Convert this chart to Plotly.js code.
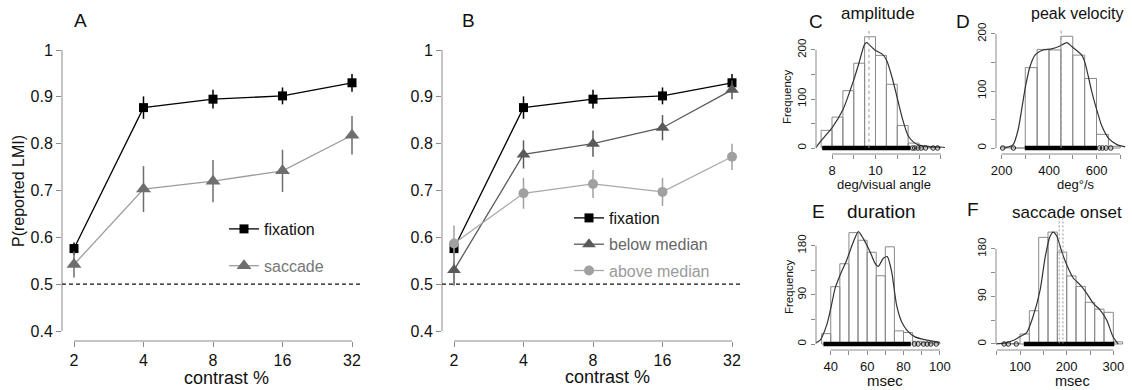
<!DOCTYPE html>
<html><head><meta charset="utf-8">
<script src="https://cdn.plot.ly/plotly-3.0.1.min.js"></script>
<style>html,body{margin:0;padding:0;background:#fff;}#chart{width:1132px;height:390px;}</style>
</head><body><div id="chart"></div>
<script>
// ---------- Panels A & B: P(reported LMI) vs contrast ----------
const contrastLabels = ['2', '4', '8', '16', '32'];
const fixationP   = [0.576, 0.877, 0.895, 0.902, 0.930];
const fixationErr = [0.013, 0.024, 0.020, 0.018, 0.019];
const saccadeP    = [0.542, 0.703, 0.720, 0.742, 0.818];
const saccadeErr  = [0.028, 0.049, 0.045, 0.045, 0.041];
const belowP      = [0.530, 0.777, 0.800, 0.834, 0.915];
const belowErr    = [0.033, 0.030, 0.028, 0.027, 0.020];
const aboveP      = [0.587, 0.694, 0.714, 0.697, 0.772];
const aboveErr    = [0.038, 0.033, 0.030, 0.030, 0.028];
const chanceLevel = 0.5;
const pTicks = [0.4, 0.5, 0.6, 0.7, 0.8, 0.9, 1];
const pTickText = ['0.4', '0.5', '0.6', '0.7', '0.8', '0.9', '1'];

// ---------- Panel C: amplitude ----------
const binStartC = [7.5, 8, 8.5, 9, 9.5, 10, 10.5, 11, 11.5, 12, 12.5];
const binWidthC = 0.5;
const countC = [36, 63, 117, 173, 227, 189, 130, 46, 10, 2, 1];
const densXC = [7.25, 7.5, 8.0, 8.5, 9.0, 9.25, 9.5, 9.6, 9.73, 10.0, 10.3, 10.5, 10.75, 11.0, 11.25, 11.5, 11.75, 12.0, 12.5, 13.0, 13.2];
const densYC = [0, 15, 41, 78, 139, 175, 212, 215, 210, 199, 192, 180, 146, 102, 58, 25, 12, 6, 3, 2, 1];
const rugDenseC = [7.55, 11.6];
const rugSparseC = [11.7, 11.8, 11.95, 12.1, 12.3, 12.65, 12.85];
const meanC = [9.7];
const xTicksC = [8, 9, 10, 11, 12, 13];
const xTickTextC = ['8', '', '10', '', '12', ''];
const yTicksC = [0, 50, 100, 150, 200];
const yTickTextC = ['0', '', '100', '', '200'];

// ---------- Panel D: peak velocity ----------
const binStartD = [200, 250, 300, 350, 400, 450, 500, 550, 600, 650];
const binWidthD = 50;
const countD = [2, 0, 141, 173, 172, 196, 163, 122, 24, 3];
const densXD = [214, 249, 270, 287, 301, 320, 341, 369, 411, 446, 475, 496, 538, 552, 580, 601, 623, 651, 686, 721];
const densYD = [0, 6, 32, 73, 108, 143, 163, 171, 174, 179, 185, 178, 163, 149, 99, 67, 38, 17, 6, 2];
const rugDenseD = [298, 602];
const rugSparseD = [205, 250, 612, 625, 640, 660];
const meanD = [451];
const xTicksD = [200, 300, 400, 500, 600, 700];
const xTickTextD = ['200', '', '400', '', '600', ''];
const yTicksD = [0, 50, 100, 150, 200];
const yTickTextD = ['0', '', '100', '', '200'];

// ---------- Panel E: duration ----------
const binStartE = [35, 40, 45, 50, 55, 60, 65, 70, 75, 80, 85, 90, 95];
const binWidthE = 5;
const countE = [19, 105, 147, 204, 190, 168, 125, 178, 24, 21, 5, 3, 2];
const densXE = [30.5, 34.2, 37.8, 40, 42.4, 45.1, 48.8, 52.4, 55.2, 57.9, 61.6, 64.3, 66.1, 68.9, 71.1, 73.5, 76.2, 78.9, 81.7, 86.3, 92.7, 100];
const densYE = [0, 7, 35, 65, 102, 126, 154, 187, 206, 193, 169, 148, 142, 157, 160, 132, 71, 41, 26, 13, 7, 3];
const rugDenseE = [36, 84];
const rugSparseE = [86, 88, 91, 93, 95, 98];
const xTicksE = [40, 50, 60, 70, 80, 90, 100];
const xTickTextE = ['40', '', '60', '', '80', '', '100'];
const yTicksE = [0, 45, 90, 135, 180];
const yTickTextE = ['0', '', '90', '', '180'];

// ---------- Panel F: saccade onset ----------
const binStartF = [60, 80, 100, 120, 140, 160, 180, 200, 220, 240, 260, 280, 300];
const binWidthF = 20;
const countF = [1, 1, 19, 63, 202, 212, 174, 129, 109, 79, 66, 60, 4];
const densXF = [46, 68, 89, 100, 114, 128, 143, 154, 164, 171, 179, 189, 200, 214, 229, 243, 257, 271, 286, 299, 310];
const densYF = [0, 2, 8, 14, 21, 52, 102, 165, 203, 212, 204, 176, 150, 125, 112, 96, 77, 65, 45, 14, 0];
const rugDenseF = [108, 302];
const rugSparseF = [66, 75, 92];
const meanF = [184, 192];
const xTicksF = [50, 100, 150, 200, 250, 300];
const xTickTextF = ['', '100', '', '200', '', '300'];
const yTicksF = [0, 45, 90, 135, 180];
const yTickTextF = ['0', '', '90', '', '180'];

// ---------- helpers ----------
const W = 1132, H = 390;
const FONT = 'Liberation Sans, Arial, Helvetica, sans-serif';
const AX = '#8a8a8a';
const px = v => v / W;
const py = v => 1 - v / H;

function errTrace(y, err, xa, ya, color, lineColor, symbol, size, name, legend, rank) {
  return {
    type: 'scatter', mode: 'lines+markers', x: contrastLabels, y: y,
    xaxis: xa, yaxis: ya, name: name, legend: legend, showlegend: true, legendrank: rank,
    legendgroup: name + xa,
    line: {color: lineColor, width: 1.3},
    marker: {color: color, symbol: symbol, size: size, line: {width: 0}},
    error_y: {type: 'data', array: err, visible: true, color: color, thickness: 1.5, width: 0},
    cliponaxis: false, hoverinfo: 'skip'
  };
}
function barTrace(starts, width, counts, xa, ya) {
  return {
    type: 'bar', x: starts, y: counts, width: width, offset: 0,
    xaxis: xa, yaxis: ya, showlegend: false,
    marker: {color: 'rgba(255,255,255,0)', line: {color: '#8a8a8a', width: 1}},
    hoverinfo: 'skip'
  };
}
function densTrace(x, y, xa, ya) {
  return {type: 'scatter', mode: 'lines', x: x, y: y, xaxis: xa, yaxis: ya, showlegend: false,
    line: {color: '#333', width: 1.2, shape: 'spline', smoothing: 0.6}, cliponaxis: false, hoverinfo: 'skip'};
}
function rugTraces(dense, sparse, xa, ya) {
  return [
    {type: 'scatter', mode: 'lines', x: dense, y: dense.map(() => 0), xaxis: xa, yaxis: ya, showlegend: false,
     line: {color: '#000', width: 4.5}, cliponaxis: false, hoverinfo: 'skip'},
    {type: 'scatter', mode: 'markers', x: sparse, y: sparse.map(() => 0), xaxis: xa, yaxis: ya, showlegend: false,
     marker: {symbol: 'circle-open', size: 4.5, color: '#222', line: {width: 1}}, cliponaxis: false, hoverinfo: 'skip'}
  ];
}

const traces = [
  errTrace(fixationP, fixationErr, 'x', 'y', '#000', '#000', 'square', 9, 'fixation', 'legend', 1),
  errTrace(saccadeP, saccadeErr, 'x', 'y', '#6e6e6e', '#9c9c9c', 'triangle-up', 13, '<span style="color:#777">saccade</span>', 'legend', 2),
  errTrace(fixationP, fixationErr, 'x2', 'y2', '#000', '#000', 'square', 9, 'fixation', 'legend2', 1),
  errTrace(belowP, belowErr, 'x2', 'y2', '#5a5a5a', '#5a5a5a', 'triangle-up', 12, '<span style="color:#666">below median</span>', 'legend2', 2),
  errTrace(aboveP, aboveErr, 'x2', 'y2', '#a0a0a0', '#a8a8a8', 'circle', 10, '<span style="color:#9a9a9a">above median</span>', 'legend2', 3),
  barTrace(binStartC, binWidthC, countC, 'x3', 'y3'),
  densTrace(densXC, densYC, 'x3', 'y3'),
  ...rugTraces(rugDenseC, rugSparseC, 'x3', 'y3'),
  barTrace(binStartD, binWidthD, countD, 'x4', 'y4'),
  densTrace(densXD, densYD, 'x4', 'y4'),
  ...rugTraces(rugDenseD, rugSparseD, 'x4', 'y4'),
  barTrace(binStartE, binWidthE, countE, 'x5', 'y5'),
  densTrace(densXE, densYE, 'x5', 'y5'),
  ...rugTraces(rugDenseE, rugSparseE, 'x5', 'y5'),
  barTrace(binStartF, binWidthF, countF, 'x6', 'y6'),
  densTrace(densXF, densYF, 'x6', 'y6'),
  ...rugTraces(rugDenseF, rugSparseF, 'x6', 'y6')
];

function xAx(domain, range, anchor, extra) {
  return Object.assign({domain: domain, range: range, anchor: anchor, showgrid: false, zeroline: false,
    showline: false, ticks: 'outside', ticklen: 5, tickcolor: AX, tickwidth: 1,
    tickfont: {family: FONT, size: 16, color: '#111'}, fixedrange: true}, extra || {});
}
function yAx(domain, range, anchor, extra) {
  return Object.assign({domain: domain, range: range, anchor: anchor, showgrid: false, zeroline: false,
    showline: false, ticks: 'outside', ticklen: 5, tickcolor: AX, tickwidth: 1,
    tickfont: {family: FONT, size: 16, color: '#111'}, fixedrange: true}, extra || {});
}
const catRange = [-12 / 69.5, 4 + 13 / 69.5];
const pRange = [0.4 - 10 / 468.33, 1 + 5 / 468.33];
const histTickX = {ticklen: 4, tickfont: {family: FONT, size: 13, color: '#111'}, tickmode: 'array'};
const histTickY = {ticklen: 4, tickangle: -90, tickfont: {family: FONT, size: 11.5, color: '#111'}, tickmode: 'array'};

const layout = {
  width: W, height: H, margin: {l: 0, r: 0, t: 0, b: 0},
  paper_bgcolor: '#fff', plot_bgcolor: 'rgba(0,0,0,0)',
  font: {family: FONT, color: '#111'},
  bargap: 0,
  xaxis:  xAx([px(62), px(365)], catRange, 'y', {type: 'category', tickmode: 'array', tickvals: contrastLabels, ticktext: contrastLabels}),
  yaxis:  yAx([py(341), py(45)], pRange, 'x', {tickmode: 'array', tickvals: pTicks, ticktext: pTickText}),
  xaxis2: xAx([px(442), px(745)], catRange, 'y2', {type: 'category', tickmode: 'array', tickvals: contrastLabels, ticktext: contrastLabels}),
  yaxis2: yAx([py(341), py(45)], pRange, 'x2', {tickmode: 'array', tickvals: pTicks, ticktext: pTickText}),
  xaxis3: xAx([px(816), px(945)], [7.264, 13.195], 'y3', Object.assign({tickvals: xTicksC, ticktext: xTickTextC}, histTickX)),
  yaxis3: yAx([py(154), py(30)], [-12.24, 240.8], 'x3', Object.assign({tickvals: yTicksC, ticktext: yTickTextC}, histTickY)),
  xaxis4: xAx([px(996), px(1130)], [176.8, 741], 'y4', Object.assign({tickvals: xTicksD, ticktext: xTickTextD}, histTickX)),
  yaxis4: yAx([py(154), py(28)], [-10.5, 210.5], 'x4', Object.assign({tickvals: yTicksD, ticktext: yTickTextD}, histTickY)),
  xaxis5: xAx([px(816), px(945)], [31.9, 102.8], 'y5', Object.assign({tickvals: xTicksE, ticktext: xTickTextE}, histTickX)),
  yaxis5: yAx([py(350), py(218)], [-11, 230.8], 'x5', Object.assign({tickvals: yTicksE, ticktext: yTickTextE}, histTickY)),
  xaxis6: xAx([px(996), px(1130)], [48.5, 335.7], 'y6', Object.assign({tickvals: xTicksF, ticktext: xTickTextF}, histTickX)),
  yaxis6: yAx([py(350), py(218)], [-11.4, 238.7], 'x6', Object.assign({tickvals: yTicksF, ticktext: yTickTextF}, histTickY)),
  legend: {x: px(224), y: py(212), xanchor: 'left', yanchor: 'top', bgcolor: 'rgba(0,0,0,0)',
    font: {family: FONT, size: 16, color: '#111'}, tracegroupgap: 13, traceorder: 'grouped', itemwidth: 30},
  legend2: {x: px(569), y: py(201), xanchor: 'left', yanchor: 'top', bgcolor: 'rgba(0,0,0,0)',
    font: {family: FONT, size: 16, color: '#111'}, tracegroupgap: 2.5, traceorder: 'grouped', itemwidth: 30},
  shapes: [],
  annotations: []
};

// R-style axis lines spanning first..last tick
function axisLines(xa, ya, xFirst, xLast, yFirst, yLast) {
  const ln = {color: AX, width: 1};
  layout.shapes.push({type: 'line', xref: xa, yref: ya + ' domain', x0: xFirst, x1: xLast, y0: 0, y1: 0, line: ln});
  layout.shapes.push({type: 'line', xref: xa + ' domain', yref: ya, x0: 0, x1: 0, y0: yFirst, y1: yLast, line: ln});
}
axisLines('x', 'y', 0, contrastLabels.length - 1, pTicks[0], pTicks[pTicks.length - 1]);
axisLines('x2', 'y2', 0, contrastLabels.length - 1, pTicks[0], pTicks[pTicks.length - 1]);
axisLines('x3', 'y3', xTicksC[0], xTicksC[xTicksC.length - 1], yTicksC[0], yTicksC[yTicksC.length - 1]);
axisLines('x4', 'y4', xTicksD[0], xTicksD[xTicksD.length - 1], yTicksD[0], yTicksD[yTicksD.length - 1]);
axisLines('x5', 'y5', xTicksE[0], xTicksE[xTicksE.length - 1], yTicksE[0], yTicksE[yTicksE.length - 1]);
axisLines('x6', 'y6', xTicksF[0], xTicksF[xTicksF.length - 1], yTicksF[0], yTicksF[yTicksF.length - 1]);

// chance lines
['y', 'y2'].forEach((ya, i) => {
  layout.shapes.push({type: 'line', xref: (i ? 'x2' : 'x') + ' domain', yref: ya, x0: 0, x1: 0.99,
    y0: chanceLevel, y1: chanceLevel, line: {color: '#111', width: 1.2, dash: '4px,3px'}});
});
// mean lines in histograms
function meanLines(means, xa, ya, dash) {
  means.forEach(m => layout.shapes.push({type: 'line', xref: xa, yref: ya + ' domain', x0: m, x1: m, y0: 0.05, y1: 1,
    line: {color: '#9a9a9a', width: 1, dash: dash}}));
}
meanLines(meanC, 'x3', 'y3', '3px,3px');
meanLines(meanD, 'x4', 'y4', '3px,3px');
meanLines(meanF, 'x6', 'y6', '2px,2px');

function ann(text, x, y, size, opts) {
  layout.annotations.push(Object.assign({text: text, x: px(x), y: py(y), xref: 'paper', yref: 'paper',
    showarrow: false, xanchor: 'center', yanchor: 'middle', font: {family: FONT, size: size, color: '#111'}}, opts || {}));
}
ann('A', 80, 20, 19);
ann('B', 468, 20, 19);
ann('P(reported LMI)', 18, 191, 16, {textangle: -90});
ann('contrast %', 226, 378, 18);
ann('contrast %', 607, 377, 18);
ann('C', 816, 21, 19);
ann('amplitude', 878, 14, 17);
ann('Frequency', 787, 97, 11.5, {textangle: -90});
ann('deg/visual angle', 884, 184, 13);
ann('D', 963, 21, 19);
ann('peak velocity', 1077, 14, 16);
ann('deg°/s', 1076, 184, 13);
ann('E', 818, 211, 19);
ann('duration', 881, 211, 19);
ann('Frequency', 789, 287, 11.5, {textangle: -90});
ann('msec', 885, 380, 15);
ann('F', 973, 209, 19);
ann('saccade onset', 1067, 213, 17);
ann('msec', 1072, 381, 14.5);

Plotly.newPlot('chart', traces, layout, {staticPlot: true, displayModeBar: false});
</script>
</body></html>
